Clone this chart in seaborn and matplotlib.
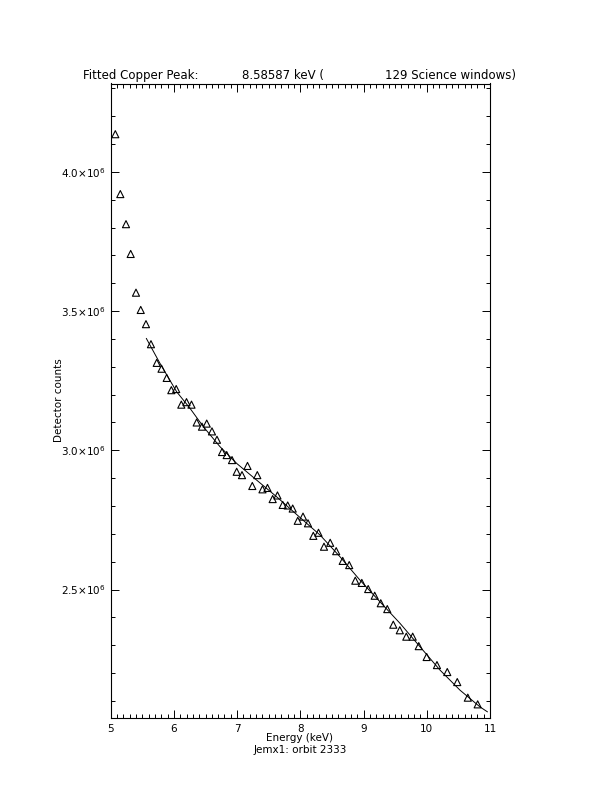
import matplotlib
matplotlib.use("Agg")

import matplotlib.pyplot as plt
import seaborn as sns
import pandas as pd
from matplotlib.ticker import MultipleLocator, FuncFormatter


# measured spectrum (keV, detector counts)
energy = [
    5.073, 5.152, 5.242, 5.316, 5.400, 5.475, 5.558, 5.637, 5.728, 5.804,
    5.886, 5.959, 6.036, 6.117, 6.199, 6.278, 6.360, 6.444, 6.519, 6.602,
    6.681, 6.761, 6.835, 6.919, 6.993, 7.077, 7.164, 7.240, 7.319, 7.401,
    7.480, 7.562, 7.638, 7.721, 7.800, 7.879, 7.959, 8.042, 8.121, 8.205,
    8.287, 8.374, 8.472, 8.567, 8.670, 8.773, 8.869, 8.972, 9.073, 9.176,
    9.272, 9.375, 9.470, 9.573, 9.676, 9.777, 9.873, 9.998, 10.161, 10.324,
    10.482, 10.649, 10.805,
]

counts = [
    4.135e6, 3.920e6, 3.812e6, 3.705e6, 3.566e6, 3.504e6, 3.453e6, 3.381e6,
    3.314e6, 3.293e6, 3.260e6, 3.216e6, 3.220e6, 3.164e6, 3.173e6, 3.164e6,
    3.100e6, 3.085e6, 3.096e6, 3.068e6, 3.038e6, 2.994e6, 2.983e6, 2.965e6,
    2.923e6, 2.911e6, 2.944e6, 2.872e6, 2.911e6, 2.860e6, 2.865e6, 2.825e6,
    2.838e6, 2.804e6, 2.802e6, 2.791e6, 2.747e6, 2.762e6, 2.738e6, 2.693e6,
    2.704e6, 2.654e6, 2.668e6, 2.638e6, 2.603e6, 2.588e6, 2.532e6, 2.524e6,
    2.502e6, 2.478e6, 2.451e6, 2.430e6, 2.374e6, 2.354e6, 2.331e6, 2.331e6,
    2.297e6, 2.258e6, 2.229e6, 2.204e6, 2.168e6, 2.112e6, 2.088e6,
]

# fitted model curve
fit_energy = [
    5.563, 5.780, 6.044, 6.254, 6.465, 6.729, 6.993, 7.309, 7.626, 7.994,
    8.311, 8.627, 8.943, 9.260, 9.576, 9.892, 10.209, 10.525, 10.841, 10.960,
]

fit_counts = [
    3.402e6, 3.312e6, 3.210e6, 3.151e6, 3.085e6, 3.013e6, 2.953e6, 2.893e6,
    2.833e6, 2.759e6, 2.696e6, 2.618e6, 2.534e6, 2.456e6, 2.379e6, 2.295e6,
    2.211e6, 2.139e6, 2.079e6, 2.061e6,
]

title_parts = ["Fitted Copper Peak:", "8.58587 keV (", "129 Science windows)"]
title_x = [83, 242, 385]

sns.set_style("ticks")
plt.rcParams["font.family"] = ["DejaVu Sans"]
plt.rcParams["mathtext.fontset"] = "dejavusans"
plt.rcParams["text.color"] = "black"
plt.rcParams["axes.labelcolor"] = "black"

W, H = 612, 792
fig = plt.figure(figsize=(W / 100, H / 100), dpi=100)
fig.patch.set_facecolor("white")

ax = fig.add_axes([110.7 / W, 1 - 718 / H, 379.3 / W, 634.5 / H])

data = pd.DataFrame({"energy": energy, "counts": counts})
fit = pd.DataFrame({"energy": fit_energy, "counts": fit_counts})

sns.lineplot(
    data=fit,
    x="energy",
    y="counts",
    ax=ax,
    color="black",
    linewidth=0.7,
    sort=True
)

sns.scatterplot(
    data=data,
    x="energy",
    y="counts",
    ax=ax,
    marker="^",
    s=26,
    facecolor="none",
    edgecolor="black",
    linewidth=0.8
)
for coll in ax.collections:
    coll.set_facecolor("none")
    coll.set_edgecolor("black")

ax.set_xlim(5, 11)
ax.set_ylim(2.039e6, 4.317e6)

ax.xaxis.set_major_locator(MultipleLocator(1))
ax.xaxis.set_minor_locator(MultipleLocator(0.1))
ax.yaxis.set_major_locator(MultipleLocator(0.5e6))
ax.yaxis.set_minor_locator(MultipleLocator(0.1e6))

ax.yaxis.set_major_formatter(
    FuncFormatter(lambda v, p: r"$%.1f{\times}10^{6}$" % (v / 1e6))
)
ax.xaxis.set_major_formatter(FuncFormatter(lambda v, p: "%d" % v))

ax.tick_params(
    which="both",
    direction="in",
    top=True,
    right=True,
    width=0.7,
    labelsize=7.5,
    colors="black"
)
ax.tick_params(which="major", length=5.5, pad=4)
ax.tick_params(which="minor", length=2.8)

for sp in ax.spines.values():
    sp.set_linewidth(0.8)
    sp.set_color("black")

ax.set_xlabel("")
ax.set_ylabel("")

fig.text(300 / W, 1 - 738 / H, "Energy (keV)", ha="center", va="center",
         fontsize=7.5, color="black")
fig.text(300 / W, 1 - 750 / H, "Jemx1: orbit 2333", ha="center",
         va="center", fontsize=7.5, color="black")
fig.text(59 / W, 1 - 400 / H, "Detector counts", ha="center", va="center",
         rotation=90, fontsize=7.5, color="black")

for txt, xp in zip(title_parts, title_x):
    fig.text(xp / W, 1 - 79 / H, txt, ha="left", va="baseline",
             fontsize=8.5, color="black")

fig.savefig("out.png", dpi=100, facecolor="white")
plt.close(fig)
